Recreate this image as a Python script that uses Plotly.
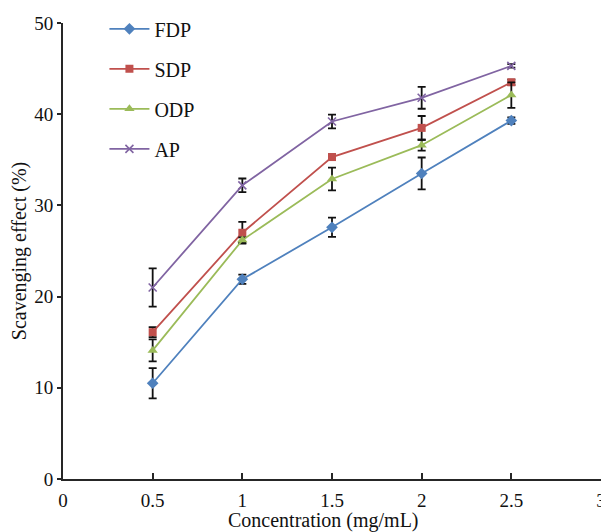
import plotly.graph_objects as go

# Concentration levels (mg/mL)
concentration = [0.5, 1.0, 1.5, 2.0, 2.5]

# Scavenging effect (%) per sample, with standard deviations
fdp = [10.5, 21.9, 27.6, 33.5, 39.3]
fdp_err = [1.65, 0.5, 1.05, 1.75, 0.35]

sdp = [16.1, 27.0, 35.3, 38.5, 43.5]
sdp_err = [0.55, 1.2, 0.3, 1.3, 0.3]

odp = [14.1, 26.2, 32.9, 36.6, 42.1]
odp_err = [1.2, 0.3, 1.25, 0.6, 1.4]

ap = [21.0, 32.2, 39.2, 41.8, 45.3]
ap_err = [2.1, 0.75, 0.75, 1.2, 0.2]

x_ticks = [0, 0.5, 1, 1.5, 2, 2.5, 3]
x_tick_text = ["0", "0.5", "1", "1.5", "2", "2.5", "3"]
y_ticks = [0, 10, 20, 30, 40, 50]

FONT = "Liberation Serif"

series = [
    ("FDP", fdp, fdp_err, "#4F81BD", "diamond", 9),
    ("SDP", sdp, sdp_err, "#C0504D", "square", 8),
    ("ODP", odp, odp_err, "#9BBB59", "triangle-up", 9),
    ("AP", ap, ap_err, "#8064A2", "x-thin", 8),
]

fig = go.Figure()
for name, vals, errs, color, symbol, size in series:
    marker = dict(symbol=symbol, size=size, color=color)
    if symbol == "x-thin":
        marker["line"] = dict(color=color, width=1.6)
    fig.add_trace(go.Scatter(
        x=concentration, y=vals, name=name, mode="lines+markers",
        legendgroup=name,
        line=dict(color=color, width=1.8),
        marker=marker,
        error_y=dict(type="data", array=errs, visible=True,
                     color="#111111", thickness=1.8, width=4),
    ))

fig.update_layout(
    width=601, height=532,
    margin=dict(l=63, r=0, t=23, b=53, autoexpand=False),
    paper_bgcolor="white", plot_bgcolor="white",
    font=dict(family=FONT, size=19, color="#111111"),
    showlegend=True,
    legend=dict(
        x=0.077, y=1.03, xanchor="left", yanchor="top",
        bgcolor="rgba(0,0,0,0)", borderwidth=0,
        font=dict(family=FONT, size=20, color="#111111"),
        itemwidth=40, tracegroupgap=11,
    ),
    # x-axis title placed as an annotation so it can sit slightly left of centre
    annotations=[dict(
        text="Concentration (mg/mL)", xref="paper", yref="paper",
        x=0.485, y=-0.092, xanchor="center", yanchor="middle",
        showarrow=False, font=dict(family=FONT, size=20, color="#111111"),
    )],
)

fig.update_xaxes(
    range=[0, 3], tickmode="array", tickvals=x_ticks, ticktext=x_tick_text,
    showgrid=False, zeroline=False, automargin=False,
    showline=True, linecolor="#262626", linewidth=2,
    ticks="inside", ticklen=6, tickwidth=1.5, tickcolor="#262626",
    tickfont=dict(family=FONT, size=19),
    ticklabeloverflow="allow", ticklabelstandoff=3,
)
fig.update_yaxes(
    range=[0, 50], tickmode="array", tickvals=y_ticks,
    showgrid=False, zeroline=False, automargin=False,
    showline=True, linecolor="#262626", linewidth=2,
    ticks="outside", ticklen=4, tickwidth=1.5, tickcolor="#262626",
    tickfont=dict(family=FONT, size=19),
    title=dict(text="Scavenging effect (%)", font=dict(family=FONT, size=20), standoff=2),
)

fig.write_html("out.html")
